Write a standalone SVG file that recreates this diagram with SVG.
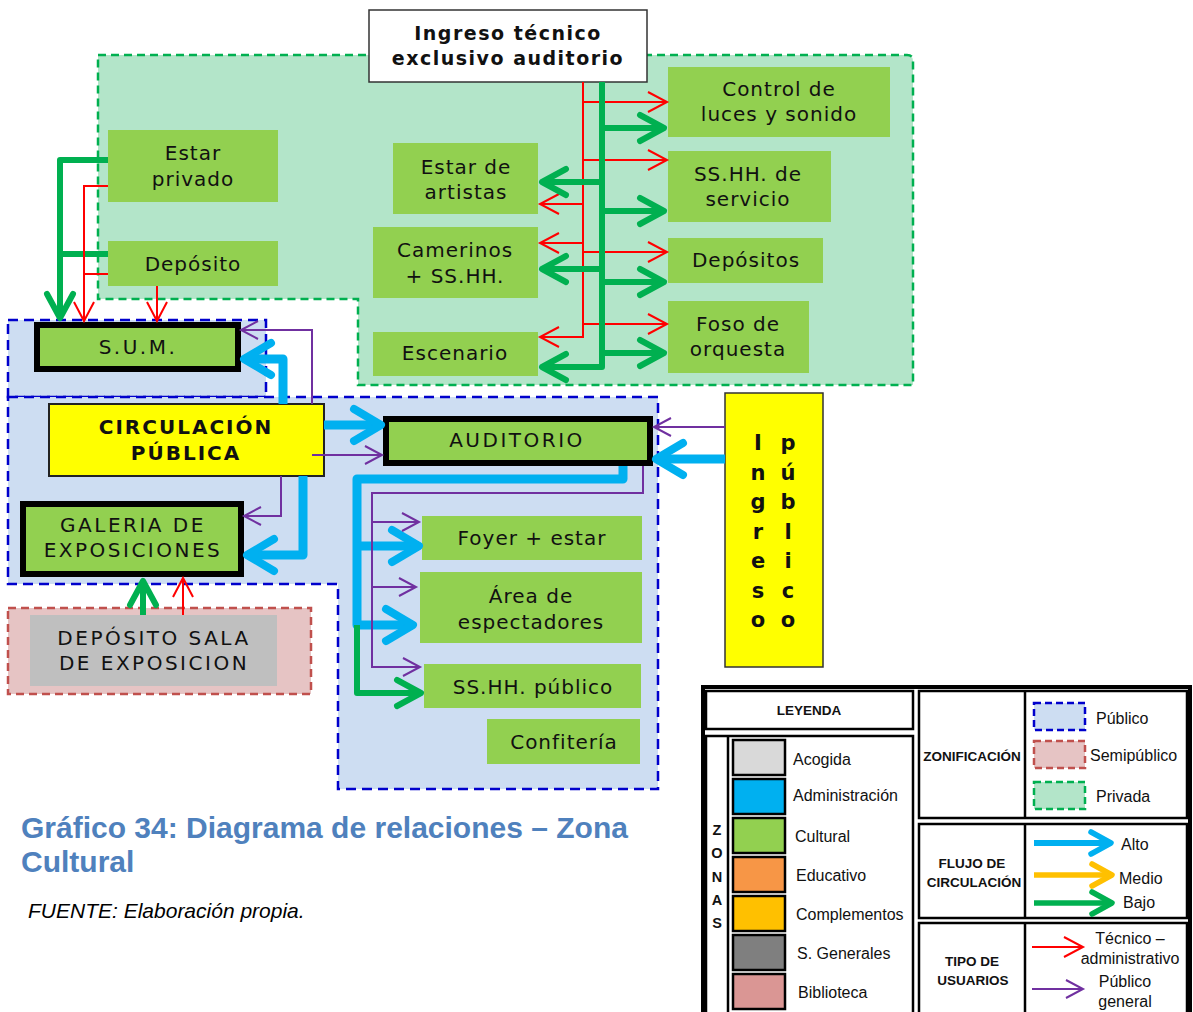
<svg xmlns="http://www.w3.org/2000/svg" width="1193" height="1012" viewBox="0 0 1193 1012">
<style>
.t{font-family:"DejaVu Sans",sans-serif;font-size:20px;fill:#111;text-anchor:middle;letter-spacing:1px}
.tc{letter-spacing:2.5px}
.tb{font-weight:bold}
.nd{fill:#92D050}
.thk{fill:#92D050;stroke:#000;stroke-width:6}
.g{stroke:#00B050;stroke-width:6;fill:none;stroke-linejoin:round}
.b{stroke:#00B0F0;stroke-width:9;fill:none;stroke-linejoin:round}
.r{stroke:#FF0000;stroke-width:2;fill:none}
.p{stroke:#7030A0;stroke-width:2;fill:none}
.lg{font-family:"Liberation Sans",Arial,sans-serif;font-size:16px;fill:#111}
.lh{font-family:"Liberation Sans",Arial,sans-serif;font-size:13.5px;font-weight:bold;fill:#111;text-anchor:middle}
.lb{fill:none;stroke:#000;stroke-width:2.5}
.sw{stroke:#000;stroke-width:2.5}
</style>
<defs>
<marker id="mG" viewBox="-32 -20 38 40" markerWidth="38" markerHeight="40" refX="0" refY="0" orient="auto" markerUnits="userSpaceOnUse" overflow="visible"><path d="M-24,-13 L0,0 L-24,13" fill="none" stroke="#00B050" stroke-width="6" stroke-linecap="round" stroke-linejoin="round"/></marker>
<marker id="mB" viewBox="-36 -24 42 48" markerWidth="42" markerHeight="48" refX="0" refY="0" orient="auto" markerUnits="userSpaceOnUse" overflow="visible"><path d="M-27,-16 L0,0 L-27,16" fill="none" stroke="#00B0F0" stroke-width="8" stroke-linecap="round" stroke-linejoin="round"/></marker>
<marker id="mR" viewBox="-24 -14 28 28" markerWidth="28" markerHeight="28" refX="0" refY="0" orient="auto" markerUnits="userSpaceOnUse" overflow="visible"><path d="M-19,-10 L0,0 L-19,10" fill="none" stroke="#FF0000" stroke-width="2"/></marker>
<marker id="mP" viewBox="-22 -13 26 26" markerWidth="26" markerHeight="26" refX="0" refY="0" orient="auto" markerUnits="userSpaceOnUse" overflow="visible"><path d="M-17,-9 L0,0 L-17,9" fill="none" stroke="#7030A0" stroke-width="2"/></marker>
<marker id="sB" viewBox="-28 -16 32 32" markerWidth="32" markerHeight="32" refX="0" refY="0" orient="auto" markerUnits="userSpaceOnUse" overflow="visible"><path d="M-20,-11 L0,0 L-20,11" fill="none" stroke="#00B0F0" stroke-width="5.5" stroke-linecap="round" stroke-linejoin="round"/></marker>
<marker id="sY" viewBox="-28 -16 32 32" markerWidth="32" markerHeight="32" refX="0" refY="0" orient="auto" markerUnits="userSpaceOnUse" overflow="visible"><path d="M-20,-11 L0,0 L-20,11" fill="none" stroke="#FFC000" stroke-width="5.5" stroke-linecap="round" stroke-linejoin="round"/></marker>
<marker id="sG" viewBox="-28 -16 32 32" markerWidth="32" markerHeight="32" refX="0" refY="0" orient="auto" markerUnits="userSpaceOnUse" overflow="visible"><path d="M-20,-11 L0,0 L-20,11" fill="none" stroke="#00B050" stroke-width="5.5" stroke-linecap="round" stroke-linejoin="round"/></marker>
</defs>
<rect width="1193" height="1012" fill="#fff"/>

<g id="zones">
<path id="zona-privada" d="M98,55 H907 Q913,55 913,61 V385 H358 V299 H98 Z" fill="#B3E5C9" stroke="#00B050" stroke-width="2.5" stroke-dasharray="8 5"/>
<rect id="zona-publica-sum" x="8" y="320" width="258" height="77" fill="#CDDDF2" stroke="#0000CC" stroke-width="2.5" stroke-dasharray="10 6"/>
<path id="zona-publica" d="M8,397 H658 V789 H338 V584 H8 Z" fill="#CDDDF2" stroke="#0000CC" stroke-width="2.5" stroke-dasharray="10 6"/>
<rect id="zona-semipublica" x="8" y="608" width="303" height="86" fill="#E6C4C4" stroke="#C0504D" stroke-width="2.5" stroke-dasharray="8 5"/>
</g>

<g id="ingreso-tecnico"><rect x="369" y="10" width="278" height="72" fill="#fff" stroke="#333" stroke-width="1.5"/><text class="t tb" style="font-size:19px;letter-spacing:1.5px" x="508" y="40">Ingreso técnico</text><text class="t tb" style="font-size:19px;letter-spacing:1.5px" x="508" y="65">exclusivo auditorio</text></g>
<g id="control"><rect class="nd" x="668" y="67" width="222" height="70"/><text class="t" x="779" y="96">Control de</text><text class="t" x="779" y="121">luces y sonido</text></g>
<g id="sshh-servicio"><rect class="nd" x="668" y="151" width="163" height="71"/><text class="t" x="748" y="181">SS.HH. de</text><text class="t" x="748" y="206">servicio</text></g>
<g id="depositos"><rect class="nd" x="668" y="238" width="155" height="45"/><text class="t" x="746" y="267">Depósitos</text></g>
<g id="foso"><rect class="nd" x="668" y="301" width="141" height="72"/><text class="t" x="738" y="331">Foso de</text><text class="t" x="738" y="356">orquesta</text></g>
<g id="estar-artistas"><rect class="nd" x="393" y="143" width="145" height="71"/><text class="t" x="466" y="174">Estar de</text><text class="t" x="466" y="199">artistas</text></g>
<g id="camerinos"><rect class="nd" x="373" y="227" width="165" height="71"/><text class="t" x="455" y="257">Camerinos</text><text class="t" x="455" y="283">+ SS.HH.</text></g>
<g id="escenario"><rect class="nd" x="373" y="332" width="165" height="44"/><text class="t" x="455" y="360">Escenario</text></g>
<g id="estar-privado"><rect class="nd" x="108" y="130" width="170" height="72"/><text class="t" x="193" y="160">Estar</text><text class="t" x="193" y="186">privado</text></g>
<g id="deposito"><rect class="nd" x="108" y="241" width="170" height="45"/><text class="t" x="193" y="271">Depósito</text></g>
<g id="sum"><rect class="thk" x="37" y="325" width="201" height="44"/><text class="t tc" x="138" y="354">S.U.M.</text></g>
<g id="circulacion"><rect x="49" y="404" width="275" height="72" fill="#FFFF00" stroke="#222" stroke-width="2"/><text class="t tb" style="letter-spacing:2px" x="186" y="434">CIRCULACIÓN</text><text class="t tb" style="letter-spacing:2px" x="186" y="460">PÚBLICA</text></g>
<g id="galeria"><rect class="thk" x="23" y="504" width="218" height="70"/><text class="t tc" x="133" y="532">GALERIA DE</text><text class="t tc" x="133" y="557">EXPOSICIONES</text></g>
<g id="deposito-sala"><rect x="30" y="615" width="247" height="71" fill="#BFBFBF"/><text class="t tc" x="154" y="645">DEPÓSITO SALA</text><text class="t tc" x="154" y="670">DE EXPOSICION</text></g>
<g id="auditorio"><rect class="thk" x="386" y="419" width="264" height="44"/><text class="t tc" x="517" y="447">AUDITORIO</text></g>
<g id="ingreso-publico"><rect x="725" y="393" width="98" height="274" fill="#FFFF00" stroke="#333" stroke-width="1.5"/>
<g class="t tb" style="letter-spacing:0;font-size:21px">
<text x="758" y="450">I</text><text x="758" y="479.5">n</text><text x="758" y="509">g</text><text x="758" y="538.5">r</text><text x="758" y="568">e</text><text x="758" y="597.5">s</text><text x="758" y="627">o</text>
<text x="788" y="450">p</text><text x="788" y="479.5">ú</text><text x="788" y="509">b</text><text x="788" y="538.5">l</text><text x="788" y="568">i</text><text x="788" y="597.5">c</text><text x="788" y="627">o</text>
</g></g>
<g id="foyer"><rect class="nd" x="422" y="516" width="220" height="44"/><text class="t" x="532" y="545">Foyer + estar</text></g>
<g id="area-espectadores"><rect class="nd" x="420" y="572" width="222" height="71"/><text class="t" x="531" y="603">Área de</text><text class="t" x="531" y="629">espectadores</text></g>
<g id="sshh-publico"><rect class="nd" x="424" y="664" width="217" height="44"/><text class="t" x="533" y="694">SS.HH. público</text></g>
<g id="confiteria"><rect class="nd" x="487" y="719" width="153" height="45"/><text class="t" x="564" y="749">Confitería</text></g>

<g id="connectors">
<path class="r" d="M583,82 V337 H540" marker-end="url(#mR)"/>
<path class="r" d="M583,102 H667" marker-end="url(#mR)"/>
<path class="r" d="M583,160 H667" marker-end="url(#mR)"/>
<path class="r" d="M583,252 H667" marker-end="url(#mR)"/>
<path class="r" d="M583,324 H667" marker-end="url(#mR)"/>
<path class="r" d="M583,204 H540" marker-end="url(#mR)"/>
<path class="r" d="M583,243 H540" marker-end="url(#mR)"/>
<path class="g" d="M602,82 V367 H542" marker-end="url(#mG)"/>
<path class="g" d="M602,128 H664" marker-end="url(#mG)"/>
<path class="g" d="M602,211 H664" marker-end="url(#mG)"/>
<path class="g" d="M602,282 H664" marker-end="url(#mG)"/>
<path class="g" d="M602,353 H664" marker-end="url(#mG)"/>
<path class="g" d="M602,182 H542" marker-end="url(#mG)"/>
<path class="g" d="M602,269 H542" marker-end="url(#mG)"/>
<path class="g" d="M108,160 H60 V318" marker-end="url(#mG)"/>
<path class="g" d="M108,254 H60"/>
<path class="r" d="M108,186 H84 V321" marker-end="url(#mR)"/>
<path class="r" d="M108,274 H84"/>
<path class="r" d="M157,286 V321" marker-end="url(#mR)"/>
<path class="b" d="M283,404 V359 H244" marker-end="url(#mB)"/>
<path class="p" d="M312,404 V330 H241" marker-end="url(#mP)"/>
<path class="b" d="M324,425 H381" marker-end="url(#mB)"/>
<path class="p" d="M312,455 H382" marker-end="url(#mP)"/>
<path class="p" d="M281,476 V516 H244" marker-end="url(#mP)"/>
<path class="b" d="M303,476 V555 H247" marker-end="url(#mB)"/>
<path class="g" d="M143,615 V581" marker-end="url(#mG)"/>
<path class="r" d="M183,615 V578" marker-end="url(#mR)"/>
<path class="p" d="M725,427 H654" marker-end="url(#mP)"/>
<path class="b" d="M725,459 H656" marker-end="url(#mB)"/>
<path class="b" d="M623,466 V479 H357 V625 H413" marker-end="url(#mB)"/>
<path class="b" d="M357,546 H419" marker-end="url(#mB)"/>
<path class="p" d="M643,466 V493 H372 V667 H420" marker-end="url(#mP)"/>
<path class="p" d="M372,522 H419" marker-end="url(#mP)"/>
<path class="p" d="M372,587 H416" marker-end="url(#mP)"/>
<path class="g" d="M357,625 V693 H421" marker-end="url(#mG)"/>
</g>

<g id="caption">
<text x="21" y="838" style="font-family:'Liberation Sans',Arial,sans-serif;font-size:30px;font-weight:bold;fill:#4F81BD">Gráfico 34: Diagrama de relaciones – Zona</text>
<text x="21" y="872" style="font-family:'Liberation Sans',Arial,sans-serif;font-size:30px;font-weight:bold;fill:#4F81BD">Cultural</text>
<text x="28" y="918" style="font-family:'Liberation Sans',Arial,sans-serif;font-size:21px;font-style:italic;fill:#000">FUENTE: Elaboración propia.</text>
</g>

<g id="legend">
<rect x="703" y="687" width="487" height="340" fill="#fff" stroke="#000" stroke-width="4"/>
<rect class="lb" x="706" y="691" width="207" height="38"/>
<text class="lh" x="809" y="715">LEYENDA</text>
<rect class="lb" x="706" y="736" width="207" height="290"/>
<line x1="728" y1="736" x2="728" y2="1012" stroke="#000" stroke-width="2.5"/>
<g class="lh" style="font-size:14.5px"><text x="717" y="835">Z</text><text x="717" y="858">O</text><text x="717" y="882">N</text><text x="717" y="905">A</text><text x="717" y="928">S</text></g>
<rect class="sw" x="733" y="740" width="52" height="35" fill="#D9D9D9"/>
<rect class="sw" x="733" y="779" width="52" height="35" fill="#00B0F0"/>
<rect class="sw" x="733" y="818" width="52" height="35" fill="#92D050"/>
<rect class="sw" x="733" y="857" width="52" height="35" fill="#F79646"/>
<rect class="sw" x="733" y="896" width="52" height="35" fill="#FFC000"/>
<rect class="sw" x="733" y="935" width="52" height="35" fill="#7F7F7F"/>
<rect class="sw" x="733" y="974" width="52" height="35" fill="#DA9694"/>
<text class="lg" x="793" y="765">Acogida</text>
<text class="lg" x="793" y="801">Administración</text>
<text class="lg" x="795" y="842">Cultural</text>
<text class="lg" x="796" y="881">Educativo</text>
<text class="lg" x="796" y="920">Complementos</text>
<text class="lg" x="797" y="959">S. Generales</text>
<text class="lg" x="798" y="998">Biblioteca</text>

<rect class="lb" x="919" y="691" width="268" height="127"/>
<line x1="1025" y1="691" x2="1025" y2="818" stroke="#000" stroke-width="2.5"/>
<text class="lh" x="972" y="761">ZONIFICACIÓN</text>
<rect x="1034" y="703" width="51" height="27" fill="#CDDDF2" stroke="#0000CC" stroke-width="2.5" stroke-dasharray="7 4"/>
<rect x="1034" y="741" width="51" height="27" fill="#E6C4C4" stroke="#C0504D" stroke-width="2.5" stroke-dasharray="7 4"/>
<rect x="1034" y="782" width="51" height="27" fill="#B3E5C9" stroke="#00B050" stroke-width="2.5" stroke-dasharray="7 4"/>
<text class="lg" x="1096" y="724">Público</text>
<text class="lg" x="1090" y="761">Semipúblico</text>
<text class="lg" x="1096" y="802">Privada</text>

<rect class="lb" x="919" y="824" width="268" height="94"/>
<line x1="1025" y1="824" x2="1025" y2="918" stroke="#000" stroke-width="2.5"/>
<text class="lh" x="972" y="868">FLUJO DE</text>
<text class="lh" x="974" y="887">CIRCULACIÓN</text>
<path d="M1034,843 H1111" stroke="#00B0F0" stroke-width="6" fill="none" marker-end="url(#sB)"/>
<path d="M1034,875 H1112" stroke="#FFC000" stroke-width="5.5" fill="none" marker-end="url(#sY)"/>
<path d="M1034,903 H1112" stroke="#00B050" stroke-width="5.5" fill="none" marker-end="url(#sG)"/>
<text class="lg" x="1121" y="850">Alto</text>
<text class="lg" x="1119" y="884">Medio</text>
<text class="lg" x="1123" y="908">Bajo</text>

<rect class="lb" x="919" y="923" width="268" height="100"/>
<line x1="1025" y1="923" x2="1025" y2="1012" stroke="#000" stroke-width="2.5"/>
<text class="lh" x="972" y="966">TIPO  DE</text>
<text class="lh" x="973" y="985">USUARIOS</text>
<path d="M1032,947 H1083" class="r" marker-end="url(#mR)"/>
<path d="M1032,989 H1083" class="p" marker-end="url(#mP)"/>
<text class="lg" x="1130" y="944" text-anchor="middle">Técnico –</text>
<text class="lg" x="1130" y="964" text-anchor="middle">administrativo</text>
<text class="lg" x="1125" y="987" text-anchor="middle">Público</text>
<text class="lg" x="1125" y="1007" text-anchor="middle">general</text>
</g>
</svg>
